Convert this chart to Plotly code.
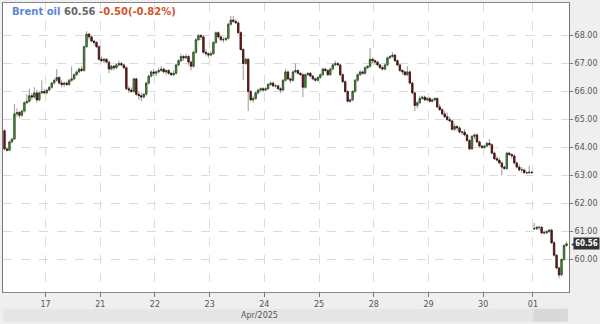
import plotly.graph_objects as go

# Hourly candles (Brent oil), grouped by trading day
day_labels = ["17", "21", "22", "23", "24", "25", "28", "29", "30", "01"]
day_sizes = [17, 22, 22, 22, 22, 22, 22, 22, 22, 20, 14]  # first = partial day 16, last = May 01

opens = [
    # 16
    64.60, 63.95, 63.90, 64.20, 64.30, 65.20, 65.25, 65.15, 65.30, 65.60, 65.65, 65.85, 65.80, 65.95, 65.70, 65.95, 66.00,
    # 17
    65.95, 66.05, 66.15, 66.30, 66.40, 66.50, 66.30, 66.25, 66.30, 66.25, 66.40, 66.45, 66.60, 66.70, 66.80, 66.75, 67.60, 68.05, 67.95, 67.80, 67.75, 67.60,
    # 21
    67.15, 67.10, 67.15, 67.05, 66.80, 66.90, 66.85, 66.95, 67.00, 66.95, 66.85, 66.10, 66.05, 66.00, 66.45, 65.90, 65.85, 65.80, 65.90, 66.30, 66.55, 66.70,
    # 22
    66.65, 66.70, 66.75, 66.80, 66.70, 66.75, 66.65, 66.60, 66.65, 66.95, 67.10, 67.25, 67.20, 67.25, 67.05, 66.90, 67.40, 67.85, 68.00, 67.95, 67.40, 67.35,
    # 23
    67.30, 67.35, 67.75, 68.10, 67.95, 67.85, 67.85, 67.90, 68.40, 68.55, 68.50, 68.45, 68.10, 67.50, 67.00, 67.15, 66.00, 65.70, 65.75, 65.95, 66.05, 66.10,
    # 24
    66.05, 66.10, 66.25, 66.30, 66.20, 66.20, 66.10, 66.05, 66.40, 66.70, 66.45, 66.40, 66.70, 66.75, 66.65, 66.60, 66.15, 66.60, 66.65, 66.55, 66.45, 66.40,
    # 25
    66.50, 66.60, 66.80, 66.75, 66.60, 66.80, 66.95, 67.00, 66.95, 66.60, 66.35, 66.00, 65.65, 65.70, 66.00, 66.40, 66.60, 66.70, 66.65, 66.85, 66.90, 67.15,
    # 28
    67.10, 67.05, 66.95, 66.85, 66.80, 66.95, 67.20, 67.25, 67.30, 67.10, 66.95, 66.75, 66.70, 66.60, 66.70, 66.30, 65.95, 65.50, 65.60, 65.75, 65.80, 65.70,
    # 29
    65.75, 65.65, 65.70, 65.75, 65.45, 65.35, 65.20, 65.10, 65.00, 64.95, 64.65, 64.75, 64.70, 64.55, 64.55, 64.45, 64.25, 63.95, 64.40, 64.45, 64.20, 64.05,
    # 30
    64.00, 64.05, 64.15, 64.10, 63.80, 63.60, 63.55, 63.45, 63.30, 63.25, 63.80, 63.75, 63.70, 63.45, 63.30, 63.20, 63.20, 63.10, 63.10, 63.12,
    # 01
    61.10, 61.10, 61.15, 61.15, 60.95, 60.95, 61.00, 61.05, 60.60, 60.15, 59.70, 59.45, 60.00, 60.50,
]
highs = [
    64.65, 64.00, 64.25, 64.35, 65.55, 65.40, 65.30, 65.35, 65.65, 65.90, 66.10, 65.95, 66.15, 66.05, 66.00, 66.40, 66.10,
    66.10, 66.20, 66.35, 66.45, 66.80, 66.55, 66.40, 66.35, 66.35, 66.45, 66.90, 66.65, 66.75, 66.85, 66.90, 67.65, 68.15, 68.10, 68.00, 67.85, 67.80, 67.65,
    67.25, 67.20, 67.20, 67.10, 66.95, 66.95, 67.00, 67.10, 67.05, 67.00, 66.90, 66.20, 66.15, 66.50, 66.50, 66.00, 65.95, 65.95, 66.35, 66.60, 66.75, 66.80,
    66.75, 66.85, 66.90, 66.85, 66.80, 66.80, 66.70, 66.75, 67.00, 67.15, 67.35, 67.30, 67.35, 67.30, 67.10, 67.45, 67.90, 68.05, 68.05, 68.00, 67.50, 67.40,
    67.45, 67.80, 68.15, 68.15, 68.00, 67.95, 67.95, 68.45, 68.70, 68.70, 68.60, 68.50, 68.15, 67.55, 67.20, 67.20, 66.05, 65.85, 66.00, 66.10, 66.15, 66.15,
    66.15, 66.30, 66.35, 66.35, 66.25, 66.25, 66.15, 66.45, 66.80, 66.75, 66.50, 66.75, 67.00, 66.80, 66.70, 66.65, 66.65, 66.70, 66.70, 66.60, 66.50, 66.55,
    66.65, 66.85, 66.85, 66.80, 66.85, 67.00, 67.10, 67.05, 67.00, 66.65, 66.40, 66.05, 65.75, 66.05, 66.45, 66.65, 66.75, 66.75, 66.90, 66.95, 67.55, 67.20,
    67.15, 67.10, 67.00, 66.90, 67.00, 67.25, 67.30, 67.40, 67.35, 67.15, 67.00, 66.80, 66.75, 66.90, 66.75, 66.35, 66.00, 65.65, 65.85, 65.85, 65.85, 65.80,
    65.80, 65.75, 65.80, 65.80, 65.55, 65.40, 65.30, 65.25, 65.10, 65.00, 64.85, 64.80, 64.75, 64.60, 64.65, 64.50, 64.30, 64.45, 64.50, 64.50, 64.25, 64.10,
    64.10, 64.20, 64.30, 64.15, 63.85, 63.70, 63.65, 63.50, 63.35, 63.85, 63.85, 63.80, 63.75, 63.50, 63.40, 63.30, 63.25, 63.15, 63.35, 63.15,
    61.30, 61.20, 61.20, 61.20, 61.05, 61.05, 61.10, 61.10, 60.65, 60.20, 59.75, 60.05, 60.55, 60.65,
]
lows = [
    63.90, 63.85, 63.88, 64.15, 64.28, 65.10, 65.05, 65.10, 65.25, 65.55, 65.60, 65.70, 65.75, 65.60, 65.65, 65.90, 65.90,
    65.90, 66.00, 66.10, 66.25, 66.35, 66.25, 66.15, 66.15, 66.20, 66.20, 66.35, 66.40, 66.55, 66.65, 66.70, 66.70, 67.55, 67.85, 67.75, 67.65, 67.55, 67.10,
    67.05, 67.00, 67.00, 66.65, 66.75, 66.75, 66.80, 66.90, 66.90, 66.80, 66.05, 65.95, 65.95, 65.95, 65.85, 65.70, 65.65, 65.75, 65.85, 66.25, 66.50, 66.55,
    66.55, 66.65, 66.70, 66.65, 66.60, 66.60, 66.55, 66.55, 66.60, 66.90, 67.05, 67.10, 67.15, 66.95, 66.75, 66.85, 67.35, 67.80, 67.85, 67.35, 67.25, 67.20,
    67.25, 67.30, 67.70, 67.90, 67.80, 67.75, 67.80, 67.85, 68.35, 68.45, 68.40, 68.05, 67.45, 66.40, 66.95, 65.30, 65.65, 65.60, 65.70, 65.90, 66.00, 66.00,
    66.00, 66.05, 66.20, 66.15, 66.15, 66.05, 65.95, 66.00, 66.35, 66.40, 66.30, 66.35, 66.65, 66.60, 66.55, 65.80, 66.10, 66.55, 66.50, 66.40, 66.35, 66.35,
    66.45, 66.55, 66.70, 66.55, 66.55, 66.75, 66.90, 66.90, 66.55, 66.30, 65.95, 65.60, 65.60, 65.65, 65.95, 66.35, 66.55, 66.60, 66.60, 66.80, 66.85, 67.00,
    66.95, 66.90, 66.80, 66.75, 66.75, 66.90, 67.15, 67.20, 67.05, 66.90, 66.70, 66.60, 66.55, 66.55, 66.25, 65.90, 65.30, 65.40, 65.55, 65.70, 65.65, 65.65,
    65.60, 65.60, 65.65, 65.40, 65.30, 65.15, 65.05, 64.95, 64.90, 64.60, 64.60, 64.60, 64.50, 64.45, 64.40, 64.20, 63.90, 63.90, 64.30, 64.15, 64.00, 63.95,
    63.95, 64.00, 64.05, 63.75, 63.55, 63.50, 63.40, 63.00, 63.20, 63.20, 63.70, 63.60, 63.40, 63.25, 63.15, 63.10, 63.05, 63.05, 63.05, 63.08,
    61.05, 61.05, 61.05, 60.90, 60.90, 60.90, 60.95, 60.55, 60.10, 59.65, 59.33, 59.40, 59.95, 60.45,
]
closes = [
    63.95, 63.90, 64.20, 64.30, 65.20, 65.25, 65.15, 65.30, 65.60, 65.65, 65.85, 65.80, 65.95, 65.70, 65.95, 66.00, 65.95,
    66.05, 66.15, 66.30, 66.40, 66.50, 66.30, 66.25, 66.30, 66.25, 66.40, 66.45, 66.60, 66.70, 66.80, 66.75, 67.60, 68.05, 67.95, 67.80, 67.75, 67.60, 67.15,
    67.10, 67.15, 67.05, 66.80, 66.90, 66.85, 66.95, 67.00, 66.95, 66.85, 66.10, 66.05, 66.00, 66.45, 65.90, 65.85, 65.80, 65.90, 66.30, 66.55, 66.70, 66.65,
    66.70, 66.75, 66.80, 66.70, 66.75, 66.65, 66.60, 66.65, 66.95, 67.10, 67.25, 67.20, 67.25, 67.05, 66.90, 67.40, 67.85, 68.00, 67.95, 67.40, 67.35, 67.30,
    67.35, 67.75, 68.10, 67.95, 67.85, 67.85, 67.90, 68.40, 68.55, 68.50, 68.45, 68.10, 67.50, 67.00, 67.15, 66.00, 65.70, 65.75, 65.95, 66.05, 66.10, 66.05,
    66.10, 66.25, 66.30, 66.20, 66.20, 66.10, 66.05, 66.40, 66.70, 66.45, 66.40, 66.70, 66.75, 66.65, 66.60, 66.15, 66.60, 66.65, 66.55, 66.45, 66.40, 66.50,
    66.60, 66.80, 66.75, 66.60, 66.80, 66.95, 67.00, 66.95, 66.60, 66.35, 66.00, 65.65, 65.70, 66.00, 66.40, 66.60, 66.70, 66.65, 66.85, 66.90, 67.15, 67.10,
    67.05, 66.95, 66.85, 66.80, 66.95, 67.20, 67.25, 67.30, 67.10, 66.95, 66.75, 66.70, 66.60, 66.70, 66.30, 65.95, 65.50, 65.60, 65.75, 65.80, 65.70, 65.75,
    65.65, 65.70, 65.75, 65.45, 65.35, 65.20, 65.10, 65.00, 64.95, 64.65, 64.75, 64.70, 64.55, 64.55, 64.45, 64.25, 63.95, 64.40, 64.45, 64.20, 64.05, 64.00,
    64.05, 64.15, 64.10, 63.80, 63.60, 63.55, 63.45, 63.30, 63.25, 63.80, 63.75, 63.70, 63.45, 63.30, 63.20, 63.20, 63.10, 63.10, 63.12, 63.10,
    61.10, 61.15, 61.15, 60.95, 60.95, 61.00, 61.05, 60.60, 60.15, 59.70, 59.45, 60.00, 60.50, 60.56,
]
price_ticks = [60, 61, 62, 63, 64, 65, 66, 67, 68]
last_price = "60.56"
change_text = "-0.50(-0.82%)"

n = len(closes)
idx = list(range(n))
# day boundaries for tick positions
bounds = []
acc = 0
for s in day_sizes[:-1]:
    acc += s
    bounds.append(acc - 0.5)

body_hi = [max(o, c) for o, c in zip(opens, closes)]
body_lo = [min(o, c) for o, c in zip(opens, closes)]

fig = go.Figure()
# wicks
fig.add_trace(go.Candlestick(
    x=idx, open=opens, high=highs, low=lows, close=closes,
    increasing=dict(line=dict(color="#9a9a9a", width=1), fillcolor="#9a9a9a"),
    decreasing=dict(line=dict(color="#9a9a9a", width=1), fillcolor="#9a9a9a"),
    whiskerwidth=0, hoverinfo="skip", showlegend=False,
))
# bodies
fig.add_trace(go.Candlestick(
    x=idx, open=opens, high=body_hi, low=body_lo, close=closes,
    increasing=dict(line=dict(color="#1f3d14", width=0.6), fillcolor="#4aa33a"),
    decreasing=dict(line=dict(color="#2a0505", width=0.6), fillcolor="#8e1515"),
    whiskerwidth=0, hoverinfo="skip", showlegend=False,
))

grid = "#dcdcdc"
fig.update_layout(
    width=600, height=324,
    margin=dict(l=2, r=29, t=2, b=32),
    paper_bgcolor="#efefef", plot_bgcolor="#ffffff",
    showlegend=False, boxgap=0.2,
    font=dict(family="DejaVu Sans", size=9, color="#444444"),
    xaxis=dict(
        range=[-0.6, 227.0], rangeslider=dict(visible=False),
        tickmode="array", tickvals=bounds, ticktext=day_labels,
        ticks="outside", ticklen=4, tickcolor="#777777",
        showgrid=True, gridcolor=grid, griddash="dash", gridwidth=1,
        showline=True, linecolor="#888888", mirror=True, zeroline=False,
        tickfont=dict(size=8, color="#555555"),
    ),
    yaxis=dict(
        range=[58.84, 69.16], side="right",
        tickmode="array", tickvals=price_ticks,
        ticktext=[f"{v:.2f}" for v in price_ticks],
        ticks="outside", ticklen=3, tickcolor="#777777",
        showgrid=True, gridcolor=grid, griddash="dash", gridwidth=1,
        showline=True, linecolor="#777777", mirror=True, zeroline=False,
        tickfont=dict(size=8, color="#555555"),
    ),
)

# bottom date strip
fig.add_shape(type="rect", xref="paper", yref="paper", x0=0, x1=0.998, y0=-0.103, y1=-0.058,
              fillcolor="#e6e6e6", line=dict(width=0), layer="below")
fig.add_shape(type="rect", xref="paper", yref="paper", x0=0.937, x1=0.998, y0=-0.103, y1=-0.058,
              fillcolor="#d9d9d9", line=dict(width=0), layer="below")
fig.add_annotation(xref="paper", yref="paper", x=0.453, y=-0.081, text="Apr/2025", showarrow=False,
                   font=dict(size=8, color="#555555"), xanchor="center", yanchor="middle")

# title
fig.add_annotation(
    xref="paper", yref="paper", x=0.012, y=0.995, xanchor="left", yanchor="top", showarrow=False,
    text=("<b><span style='color:#5b86d6'>Brent oil</span> "
          f"<span style='color:#666666'>{last_price}</span> "
          f"<span style='color:#d0552c'>{change_text}</span></b>"),
    font=dict(size=10, family="DejaVu Sans"),
)

# last price marker
fig.add_annotation(
    xref="paper", yref="y", x=1.0, y=float(last_price), xanchor="left", yanchor="middle",
    xshift=4, showarrow=False, text=f"<b>{last_price}</b>",
    font=dict(size=8, color="#ffffff", family="DejaVu Sans Condensed"),
    bgcolor="#333333", borderpad=1,
)
fig.add_annotation(
    xref="paper", yref="y", x=1.0, y=float(last_price), xanchor="left", yanchor="middle",
    xshift=0, showarrow=False, text="◀", font=dict(size=6, color="#333333"),
)

fig.write_html("out.html")
